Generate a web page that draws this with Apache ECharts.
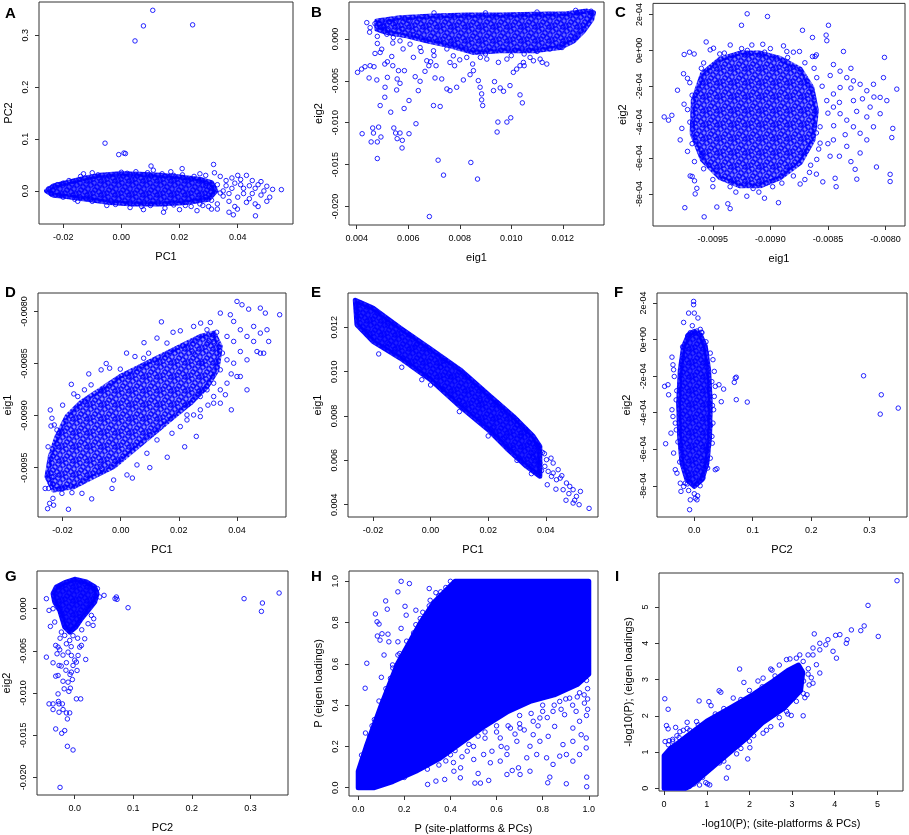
<!DOCTYPE html>
<html><head><meta charset="utf-8">
<script src="https://cdn.jsdelivr.net/npm/echarts@6/dist/echarts.min.js"></script>
<style>html,body{margin:0;padding:0;background:#fff}#c{width:909px;height:835px}</style>
</head><body><div id="c"></div>
<script>
// ---------- tick values and labels ----------
const ticksPC1 = [-0.02, 0, 0.02, 0.04];
const labelsPC1 = ["-0.02", "0.00", "0.02", "0.04"];
const ticksPC2A = [0, 0.1, 0.2, 0.3];
const labelsPC2A = ["0.0", "0.1", "0.2", "0.3"];
const ticksEig1B = [0.004, 0.006, 0.008, 0.010, 0.012];
const labelsEig1B = ["0.004", "0.006", "0.008", "0.010", "0.012"];
const ticksEig2B = [-0.020, -0.015, -0.010, -0.005, 0];
const labelsEig2B = ["-0.020", "-0.015", "-0.010", "-0.005", "0.000"];
const ticksEig1C = [-0.0095, -0.0090, -0.0085, -0.0080];
const labelsEig1C = ["-0.0095", "-0.0090", "-0.0085", "-0.0080"];
const ticksEig2C = [-8e-4, -6e-4, -4e-4, -2e-4, 0, 2e-4];
const labelsEig2C = ["-8e-04", "-6e-04", "-4e-04", "-2e-04", "0e+00", "2e-04"];
const ticksP = [0, 0.2, 0.4, 0.6, 0.8, 1.0];
const labelsP = ["0.0", "0.2", "0.4", "0.6", "0.8", "1.0"];
const ticksLog = [0, 1, 2, 3, 4, 5];
const labelsLog = ["0", "1", "2", "3", "4", "5"];

// ---------- panel A: PC1 vs PC2 ----------
const coreA = [[-0.0257,0.0],[-0.0234,0.0096],[-0.0188,0.0159],[-0.0119,0.0255],[-0.0073,0.0300],[-0.0005,0.0330],[0.0064,0.0320],[0.0133,0.0300],[0.0202,0.0270],[0.0271,0.0223],[0.0310,0.0159],[0.0325,0.0],[0.0300,-0.0159],[0.0225,-0.0223],[0.0133,-0.0250],[0.0041,-0.0250],[-0.0039,-0.0223],[-0.0119,-0.0159],[-0.0188,-0.0108],[-0.0234,-0.0083]];
const ptsA = [[0.0108,0.348],[0.0076,0.318],[0.0047,0.289],[0.0245,0.320],[-0.0056,0.092],[-0.0009,0.070],[0.0009,0.073],[0.0014,0.072],[0.0102,0.048],[0.0317,0.051],[0.0209,0.043],[0.055,0.0025],[0.0461,-0.048],[0.037,-0.041],[0.0385,-0.046],[0.0399,-0.035],[0.0145,-0.041],[0.0076,-0.036],
[0.034,0.028],[0.036,0.02],[0.038,0.005],[0.035,-0.01],[0.037,-0.02],[0.04,0.03],[0.041,0.012],[0.042,-0.005],[0.043,0.03],[0.044,-0.015],[0.045,0.02],[0.046,0.005],[0.046,-0.025],[0.047,0.012],[0.048,-0.008],[0.049,0.0],[0.05,0.009],[0.05,-0.02],[0.051,-0.012],[0.052,0.003],[0.039,-0.03],[0.033,-0.025],[0.032,0.035],[0.041,0.022],[0.044,0.01],[0.048,0.018],[0.043,-0.022],[0.047,-0.03],[0.036,0.01],[0.034,-0.004],
[0.033,0.012],[0.035,0.0],[0.037,-0.005],[0.039,0.015],[0.040,-0.012],[0.042,0.005],[0.045,-0.005],[0.038,0.025],[0.031,-0.018],[0.033,-0.035],[0.029,0.03],[0.030,-0.03],
[-0.013,0.033],[-0.01,0.035],[0.0,0.036],[0.005,0.037],[0.017,0.037],[0.027,0.033],[-0.005,-0.028],[0.007,-0.03],[0.015,-0.033],[0.024,-0.03],[0.028,-0.028],[0.031,-0.035],[-0.015,-0.02],[-0.02,0.015],[0.018,0.03],[0.022,-0.028],[-0.025,0.004],[-0.024,-0.006],[0.011,0.04],[0.02,-0.036],[0.026,-0.038],[0.003,-0.032],
[-0.022,0.012],[-0.018,0.02],[-0.014,0.028],[-0.008,0.031],[0.002,0.034],[0.009,0.035],[0.014,0.033],[0.021,0.031],[0.025,0.028],[-0.02,-0.012],[-0.016,-0.016],[-0.01,-0.02],[-0.002,-0.026],[0.01,-0.028],[0.018,-0.027],[0.027,-0.025],[0.029,0.01],[0.031,0.005],[0.03,-0.008]];

// ---------- panel B: eig1 vs eig2 ----------
const coreB = [[0.004777,0.00213],[0.005683,0.00253],[0.006977,0.00273],[0.008272,0.00285],[0.009566,0.00285],[0.010861,0.00293],[0.012155,0.0030],[0.012932,0.00332],[0.013191,0.00312],[0.013126,0.00233],[0.012803,0.00095],[0.012414,-0.00024],[0.011896,-0.00103],[0.010861,-0.00142],[0.009566,-0.00142],[0.008531,-0.00162],[0.007625,-0.00083],[0.006718,-0.00024],[0.005942,0.00036],[0.005165,0.00075],[0.004777,0.00115]];
const ptsB = [[0.00403,-0.00399],[0.00419,-0.00360],[0.00432,-0.00332],[0.00452,-0.00320],[0.00467,-0.00332],[0.00448,-0.00466],[0.00478,-0.00490],[0.00471,-0.00174],[0.00491,-0.00162],[0.00497,-0.00123],[0.00509,-0.00300],[0.00519,-0.00273],[0.00536,-0.00210],[0.00540,-0.00320],[0.00480,-0.00055],[0.00421,-0.01131],[0.00456,-0.01229],[0.00462,-0.01063],[0.00465,-0.01123],[0.00480,-0.01229],[0.00480,-0.01427],[0.00485,-0.01052],[0.00491,-0.00795],[0.00494,-0.01170],[0.00510,-0.00577],[0.00509,-0.00696],[0.00519,-0.00459],[0.00532,-0.00874],[0.00544,-0.01063],[0.00551,-0.01123],[0.00557,-0.01190],[0.00568,-0.01123],[0.00577,-0.01210],[0.00576,-0.01301],[0.00603,-0.01131],[0.00630,-0.01012],[0.00584,-0.00830],[0.00603,-0.00735],[0.00557,-0.00478],[0.00555,-0.00609],[0.00568,-0.00530],[0.00562,-0.00379],[0.00585,-0.00379],[0.00627,-0.00451],[0.00639,-0.00617],[0.00646,-0.00506],[0.00665,-0.00387],[0.00687,-0.00273],[0.00708,-0.00320],[0.00704,-0.00466],[0.00730,-0.00478],[0.00698,-0.00795],[0.00724,-0.00806],[0.00716,-0.01447],[0.00737,-0.01625],[0.00682,-0.02119],[0.00843,-0.01474],[0.00869,-0.01672],[0.00750,-0.00597],[0.00762,-0.00617],[0.00788,-0.00577],[0.00814,-0.00490],[0.00840,-0.00427],[0.00853,-0.00379],[0.00872,-0.00498],[0.00879,-0.00577],[0.00885,-0.00656],[0.00885,-0.00727],[0.00889,-0.00795],[0.00948,-0.00992],[0.00983,-0.00992],[0.00998,-0.00941],[0.00945,-0.01111],[0.01034,-0.00668],[0.01043,-0.00763],[0.00931,-0.00617],[0.00935,-0.00510],[0.00957,-0.00585],[0.00970,-0.00625],[0.00995,-0.00557],[0.01008,-0.00399],[0.01021,-0.00360],[0.01034,-0.00320],[0.01047,-0.00281],[0.01086,-0.00261],[0.01112,-0.00241],[0.01138,-0.00300],[0.01197,-0.00103],[0.00471,0.00182],[0.00504,0.00154],[0.00529,0.00206],[0.00452,0.00134],[0.00439,0.00194],[0.00517,0.00055],[0.00542,0.00016],[0.00568,-0.00024],[0.00607,-0.00063],[0.00646,-0.00103],[0.00698,-0.00142],[0.00775,-0.00202],[0.00827,-0.00221],[0.00905,-0.00241],[0.00983,-0.00241],[0.01073,-0.00221],[0.00762,-0.00281],[0.00672,-0.00261],
[0.0065,-0.0015],[0.0070,-0.0020],[0.0075,-0.0012],[0.0080,-0.0025],[0.0085,-0.0030],[0.0090,-0.0018],[0.0095,-0.0028],[0.0100,-0.0020],[0.0105,-0.0018],[0.0110,-0.0015],[0.0115,-0.0012],[0.0120,-0.0006],[0.0088,-0.0022],[0.0078,-0.0032],[0.0068,-0.0032],[0.0062,-0.0022],[0.0058,-0.0012],[0.0054,-0.0005],[0.0105,-0.0032],[0.0112,-0.0028],[0.0050,0.0015],[0.0055,0.0019],[0.0060,0.0022],[0.0045,0.0008],[0.0048,0.0003],[0.0052,0.0010],[0.0058,0.0012],[0.0062,0.0005],[0.0070,0.0031],[0.0090,0.0031],[0.0110,0.0032],[0.0125,0.0034],[0.0131,0.0033]];

// ---------- panel C: eig1 vs eig2 ----------
const coreC = [[-0.0096700,-2.80e-4],[-0.0095900,-1.30e-4],[-0.0094400,-5.0e-5],[-0.0092625,-1.5e-5],[-0.0090888,-1.5e-5],[-0.0089150,-4.5e-5],[-0.0087400,-1.05e-4],[-0.0086400,-2.07e-4],[-0.0086000,-3.35e-4],[-0.0086300,-5.0e-4],[-0.0087400,-6.25e-4],[-0.0089150,-7.1e-4],[-0.0090888,-7.55e-4],[-0.0092625,-7.55e-4],[-0.0094363,-7.1e-4],[-0.0095900,-6.1e-4],[-0.0096800,-4.62e-4]];
const ptsC = [[-0.0092017,2.04e-4],[-0.0090250,1.89e-4],[-0.0092509,1.40e-4],[-0.0087210,1.12e-4],[-0.0084951,1.40e-4],[-0.0086341,7.2e-5],[-0.0085154,8.5e-5],[-0.0085096,5.4e-5],[-0.009558,4.7e-5],[-0.0083648,-6e-6],[-0.0080085,-3.9e-5],[-0.0079014,-2.16e-4],[-0.0079361,-4.35e-4],[-0.007945,-4.86e-4],[-0.0079592,-6.91e-4],[-0.0079592,-7.31e-4],[-0.0080780,-6.5e-4],[-0.0082633,-6.63e-4],[-0.0082488,-7.18e-4],[-0.0084372,-7.13e-4],[-0.0084285,-7.6e-4],[-0.0085443,-7.33e-4],[-0.0087413,-7.45e-4],[-0.0089295,-8.49e-4],[-0.0090511,-8.24e-4],[-0.0092046,-8.13e-4],[-0.0093697,-8.55e-4],[-0.0093494,-8.82e-4],[-0.0094653,-8.73e-4],[-0.0095753,-9.28e-4],[-0.0097433,-8.77e-4],[-0.0096593,-7.27e-4],[-0.0096390,-7.69e-4],[-0.0096535,-8.0e-4],[-0.0099228,-3.71e-4],[-0.0098852,-3.89e-4],[-0.0098562,-3.62e-4],[-0.0098070,-2.22e-4],[-0.0097838,-4.99e-4],[-0.0097693,-4.35e-4],[-0.0097201,-5.63e-4],[-0.0096969,-7.0e-4],[-0.0096795,-7.03e-4],[-0.009749,-2.3e-5],[-0.0097027,-1.0e-5],[-0.0096622,-2.0e-5],[-0.0097548,-1.3e-4],[-0.0097201,-1.56e-4],[-0.009523,3e-6],[-0.009494,1.2e-5],[-0.009349,3.0e-5],[-0.009161,3.0e-5],[-0.009066,3.4e-5],[-0.008886,2.5e-5],[-0.008857,-6e-6],[-0.008747,-6e-6],[-0.008634,-3.4e-5],[-0.008611,-3.4e-5],
[-0.008452,-7.9e-5],[-0.008394,-1.16e-4],[-0.008336,-1.52e-4],[-0.008278,-1.70e-4],[-0.008220,-1.89e-4],[-0.008162,-2.25e-4],[-0.008104,-1.89e-4],[-0.008046,-2.62e-4],[-0.007988,-2.80e-4],[-0.008510,-2.80e-4],[-0.008452,-3.16e-4],[-0.008394,-3.53e-4],[-0.008336,-3.89e-4],[-0.008278,-4.26e-4],[-0.008220,-4.62e-4],[-0.008162,-4.99e-4],[-0.008104,-4.26e-4],[-0.008046,-3.53e-4],[-0.008568,-4.26e-4],[-0.008452,-4.99e-4],[-0.008336,-5.35e-4],[-0.008220,-5.72e-4],[-0.008481,-5.90e-4],[-0.008597,-6.08e-4],[-0.008394,-2.07e-4],[-0.008278,-2.80e-4],[-0.008162,-3.71e-4],[-0.008017,-1.52e-4],[-0.008133,-3.16e-4],[-0.008452,-2.43e-4],[-0.008597,-1.52e-4],[-0.008568,-5.17e-4],
[-0.00855,-2.0e-4],[-0.00850,-3.5e-4],[-0.00860,-4.6e-4],[-0.00845,-4.2e-4],[-0.00865,-6.4e-4],[-0.00858,-5.5e-4],[-0.0084,-2.9e-4],[-0.00848,-1.4e-4],[-0.00835,-4.7e-4],[-0.00825,-3.4e-4],[-0.00862,-1.0e-4],[-0.00870,-6.9e-5],[-0.00968,-2.5e-4],[-0.00972,-3.3e-4],[-0.00966,-6.2e-4],[-0.00958,-6.6e-4],[-0.00950,-7.6e-4],[-0.00935,-7.6e-4],[-0.00915,-7.7e-4],[-0.00898,-7.6e-4],[-0.00880,-7.0e-4],[-0.00866,-6.8e-4],[-0.00958,-7.0e-5],[-0.00944,-2.0e-5],[-0.00925,1.0e-5],[-0.00905,-1.0e-5],[-0.00885,-4.0e-5],
[-0.00975,-3.0e-4],[-0.0097,-4.0e-4],[-0.00968,-5.2e-4],[-0.0096,-5.8e-4],[-0.0095,-7.2e-4],[-0.0093,-7.9e-4],[-0.0091,-7.9e-4],[-0.0089,-7.4e-4],[-0.0087,-7.2e-4],[-0.0086,-6.9e-4],[-0.0088,-1.0e-5],[-0.0090,1.0e-5],[-0.0092,0.0],[-0.0094,-1.5e-5],[-0.0096,-1.0e-4],[-0.0097,-1.8e-4],[-0.0085,-5.2e-4],[-0.0084,-5.9e-4],[-0.0083,-6.2e-4],[-0.0082,-2.7e-4],[-0.0081,-2.6e-4],[-0.0083,-2.1e-4],[-0.0086,-2.5e-5],[-0.0083,-1.0e-4]];

// ---------- panel D: PC1 vs eig1 ----------
const coreD = [[-0.02539,-0.009586],[-0.02424,-0.009394],[-0.02195,-0.009202],[-0.01851,-0.009010],[-0.01392,-0.008881],[-0.007037,-0.008753],[-0.000153,-0.008625],[0.00673,-0.008529],[0.013613,-0.008433],[0.020497,-0.008337],[0.027379,-0.00824],[0.031968,-0.008208],[0.034263,-0.008337],[0.033115,-0.008561],[0.029674,-0.008721],[0.023938,-0.008881],[0.018202,-0.00901],[0.011319,-0.00917],[0.004435,-0.00933],[-0.002447,-0.00949],[-0.00933,-0.009586],[-0.01621,-0.009683],[-0.0231,-0.009715]];
const ptsD = [[0.0400,-0.007904],[0.04172,-0.007936],[0.04401,-0.007978],[0.04803,-0.007968],[0.04975,-0.008016],[0.05468,-0.008032],[0.03426,-0.008016],[0.0377,-0.008032],[0.03885,-0.008096],[0.02749,-0.008112],[0.03082,-0.008106],[0.0205,-0.008186],[0.01247,-0.008256],[0.0159,-0.008304],
[0.04115,-0.008176],[0.04344,-0.00824],[0.04573,-0.008144],[0.04803,-0.008208],[0.05032,-0.008176],[0.0509,-0.008288],[0.04688,-0.008385],[0.04344,-0.008465],[0.04918,-0.008401],[0.03999,-0.008625],[0.04115,-0.008625],[0.03805,-0.008945],[0.03426,-0.008881],[0.03197,-0.008817],[0.02738,-0.008945],[0.02508,-0.008994],[0.02279,-0.008994],[0.0205,-0.009106],
[0.03656,-0.00824],[0.03885,-0.008288],[0.04115,-0.008385],[0.03656,-0.008465],[0.03426,-0.008561],[0.03197,-0.008689],[0.02967,-0.008753],[0.02738,-0.008817],[0.03885,-0.008497],[0.04573,-0.008288],[0.04803,-0.008401],[0.03197,-0.008288],[0.02967,-0.008176],[0.04344,-0.008753],[0.03656,-0.008689],[0.02508,-0.008144],
[-0.02516,-0.009894],[-0.02447,-0.009843],[-0.02333,-0.009795],[-0.02310,-0.00986],[-0.02482,-0.009699],[-0.02424,-0.00965],[-0.02023,-0.009747],[-0.01679,-0.00974],[-0.01335,-0.009747],[-0.02310,-0.009586],
[-0.02424,-0.008946],[-0.02367,-0.009026],[-0.02287,-0.009090],[-0.02195,-0.009138],
[-0.01615,-0.008792],[-0.01478,-0.008817],[-0.01249,-0.008753],[-0.0102,-0.008705],[-0.00675,-0.008561],[-0.003824,-0.008545],[-0.000153,-0.008554],[0.004894,-0.008433],[0.007877,-0.008449],[0.009598,-0.008401],
[-0.007037,-0.00949],[-0.002447,-0.009619],[0.00214,-0.00957],[0.00558,-0.009474],[0.009,-0.009362],[0.01247,-0.009234],[0.01763,-0.00917],[0.02279,-0.009042],[0.02738,-0.00901],[0.03197,-0.008881],[0.03426,-0.008753],
[0.025,-0.0084],[0.028,-0.0085],[0.030,-0.0083],[0.033,-0.0082],[0.035,-0.0084],[0.038,-0.0086],[0.036,-0.0088],[0.030,-0.0089],[0.026,-0.0092],[0.022,-0.0093],[0.016,-0.0094],[0.010,-0.0095],[0.004,-0.0096],[-0.003,-0.0097],[-0.010,-0.0098],[-0.018,-0.0099],[-0.026,-0.0097],[-0.025,-0.0093],[-0.024,-0.0091],[-0.020,-0.0089],[-0.017,-0.0087],[-0.011,-0.0086],[-0.005,-0.0085],[0.002,-0.0084],[0.008,-0.0083],[0.014,-0.0081],[0.018,-0.0082]];

// ---------- panel E: PC1 vs eig1 ----------
const coreE = [[-0.02612,0.013218],[-0.02,0.012872],[-0.01054,0.01197],[0.0,0.011023],[0.01023,0.01009],[0.02004,0.008962],[0.02869,0.007985],[0.03561,0.007083],[0.03792,0.006632],[0.03792,0.005278],[0.03331,0.005729],[0.02638,0.006556],[0.02004,0.007383],[0.01023,0.008436],[0.0,0.009639],[-0.01054,0.010617],[-0.02,0.011368],[-0.02554,0.01212]];
const ptsE = [[0.0550,0.003834],[0.05154,0.0040],[0.04946,0.004075],[0.046,0.004677],[0.04715,0.004978],[0.0483,0.004827],[0.04946,0.004677],[0.05062,0.004376],[0.04254,0.005428],[0.0408,0.005503],[0.04369,0.005127],[0.03965,0.005729],[0.03792,0.005879],[0.03561,0.00618],[0.03446,0.005804],[0.03561,0.006361],[0.04254,0.005879],[0.04427,0.005579],[0.04554,0.005308],[0.04023,0.00603],[0.04196,0.005277],[0.03849,0.005534],[0.03446,0.006782],[0.03884,0.006361],[0.03677,0.006707],[0.02869,0.00657],[0.02569,0.00702],[0.02165,0.00747],[-0.00304,0.00964],[0.0100,0.0087],[0.0035,0.0102],[0.0172,0.0087],[0.0315,0.0071],[-0.0245,0.0131],[-0.0255,0.0125],[-0.022,0.0118],[-0.018,0.0108],[0.045,0.0052],[0.048,0.0045],[0.050,0.0042],[0.052,0.0046],[0.0405,0.0049],[0.0435,0.0047],[0.0470,0.0042],[0.0395,0.0063],[0.0418,0.0061],[0.0330,0.0074],[0.0300,0.0078],[0.0230,0.0086],[-0.0150,0.0113],[0.0060,0.0098],
[-0.015,0.0121],[-0.005,0.0112],[0.005,0.0105],[0.015,0.0094],[0.025,0.0083],[0.030,0.0076],[-0.010,0.0102],[0.0,0.0094],[0.010,0.0082],[0.020,0.0071],[0.030,0.0060],[0.035,0.0054]];

// ---------- panel F: PC2 vs eig2 ----------
const coreF = [[0.0,4.5e-5],[0.01027,2.7e-5],[0.01882,-3.7e-5],[0.02452,-1.65e-4],[0.02737,-3.48e-4],[0.02623,-5.3e-4],[0.02167,-6.76e-4],[0.01312,-7.67e-4],[0.0,-8.04e-4],[-0.01255,-7.67e-4],[-0.0211,-6.76e-4],[-0.02509,-5.3e-4],[-0.0268,-3.48e-4],[-0.02395,-1.65e-4],[-0.01825,-3.7e-5],[-0.0097,2.7e-5]];
const ptsF = [[0.2897,-1.98e-4],[0.32,-3.02e-4],[0.3182,-4.08e-4],[0.349,-3.75e-4],[0.07015,-2.11e-4],[0.07186,-2.06e-4],[0.06844,-2.34e-4],[0.07186,-3.29e-4],[0.09068,-3.42e-4],[0.0502,-2.71e-4],[0.0422,-2.47e-4],[0.0462,-3.40e-4],
[-0.00114,2.09e-4],[-0.00114,1.91e-4],[-0.00969,1.45e-4],[0.0,1.45e-4],[0.00627,1.18e-4],[-0.01825,9.4e-5],[-0.0034,7.6e-5],[0.01027,5.6e-5],[0.00456,4.7e-5],[-0.01141,2e-5],[-0.00684,3.8e-5],[0.01312,3.8e-5],
[-0.04904,-5.7e-4],[-0.05076,-2.56e-4],[-0.04505,-2.47e-4],[-0.04391,-3.02e-4],[-0.03821,-9.6e-5],[-0.0365,-1.38e-4],[-0.03536,-1.65e-4],[-0.03422,-2.02e-4],[-0.03992,-5.12e-4],[-0.03821,-3.84e-4],[-0.0365,-4.21e-4],[-0.03251,-4.57e-4],[-0.0308,-4.94e-4],[-0.03536,-6.21e-4],[-0.03251,-7.12e-4],[-0.02281,-8.31e-4],[-0.02966,-7.31e-4],[-0.02395,-7.86e-4],
[0.02737,-7.4e-5],[0.03194,-1.10e-4],[0.03422,-1.74e-4],[0.03593,-2.56e-4],[0.03422,-3.11e-4],[0.03308,-3.84e-4],[0.03194,-4.57e-4],[0.03023,-5.30e-4],[0.0308,-5.67e-4],[0.02737,-6.49e-4],[0.02281,-7.03e-4],[0.03593,-7.12e-4],[0.03878,-7.07e-4],[0.02053,-6.94e-4],[0.01483,-7.58e-4],
[-0.00798,-9.31e-4],[0.00171,-8.68e-4],[0.00456,-8.77e-4],[0.0,-8.44e-4],[0.0057,-8.55e-4],[-0.00684,-8.77e-4],[-0.0097,-8.26e-4],[-0.01825,-8.04e-4],[-0.0154,-7.86e-4],
[-0.030,-2.8e-4],[-0.031,-3.3e-4],[0.030,-2.3e-4],[0.031,-3.6e-4],[0.028,-4.7e-4],[-0.028,-5.6e-4],[-0.025,-6.7e-4],[0.022,-6.0e-4],[-0.020,-4.0e-5],[0.020,-1.2e-5],[0.012,4.0e-5],[-0.012,-7.9e-4],[0.010,-8.0e-4]];

// ---------- panel G: PC2 vs eig2 ----------
const coreG = [[0.0,0.003485],[0.01993,0.003168],[0.03416,0.002574],[0.03814,0.001782],[0.03416,0.000792],[0.02277,-0.000198],[0.01139,-0.001188],[0.00171,-0.002178],[-0.00854,-0.002772],[-0.01708,-0.002178],[-0.02562,-0.000198],[-0.03416,0.000792],[-0.037,0.001782],[-0.03131,0.002574],[-0.01708,0.003089]];
const ptsG = [[0.2892,0.001188],[0.349,0.00186],[0.3205,0.000673],[0.3188,-0.000317],[0.0911,0.000119],[0.07116,0.001386],[0.0723,0.001109],[0.06889,0.001188],[0.0501,0.001584],[0.0427,0.00139],[0.0387,0.00238],
[-0.04839,0.001188],[-0.04384,-0.000198],[-0.04156,-0.002099],[-0.03416,-0.001584],[-0.037,0.0],
[-0.04839,-0.005742],[-0.037,-0.006415],[-0.03245,-0.004356],[-0.02846,-0.004554],[-0.03017,-0.005346],[-0.02562,-0.004871],
[-0.03245,-0.008],[-0.02846,-0.00792],[-0.02676,-0.006732],[-0.0279,-0.011],[-0.02676,-0.011286],[-0.02846,-0.0101],
[-0.04384,-0.011286],[-0.037,-0.011286],[-0.037,-0.01196],[-0.02106,-0.011286],[-0.01993,-0.01196],[-0.02676,-0.012276],[-0.01423,-0.012355],[-0.00854,-0.012355],[-0.01253,-0.013068],[-0.03245,-0.014256],[-0.0222,-0.014771],[-0.01708,-0.014454],[-0.01253,-0.016315],[-0.00285,-0.016751],[-0.02505,-0.021186],[0.00285,-0.010692],[0.01025,-0.010692],[-0.0074,-0.009425],
[-0.01139,-0.008712],[-0.00569,-0.007524],[-0.00285,-0.006732],[0.00399,-0.007326],[0.00569,-0.005544],[0.00854,-0.004554],[0.01139,-0.004356],[0.01879,-0.006019],[0.01708,-0.003564],[0.00285,-0.006336],[-0.00569,-0.005544],[-0.01139,-0.005148],[-0.00854,-0.003762],[-0.01708,-0.003168],[-0.02277,-0.002772],[-0.01423,-0.004158],[0.02277,-0.001782],[0.03131,-0.00198],[0.03245,-0.001188],[0.02846,-0.000792],
[-0.0142,-0.0064],[-0.008,-0.0078],[-0.02,-0.0086],[-0.018,-0.0095],[-0.01,-0.0098],[-0.004,-0.0084],[0.0,-0.0061],[-0.02,-0.0055],[-0.025,-0.0035],[-0.006,-0.0045],[0.005,-0.0035],[-0.015,-0.0073],[-0.023,-0.0068],[-0.003,-0.0032],[0.012,-0.0025]];

// ---------- panel H: P (site-platforms & PCs) vs P (eigen loadings) ----------
const coreH = [[0.0,0.0],[0.0,0.08],[0.035,0.2],[0.1,0.4],[0.17,0.6],[0.27,0.8],[0.33,0.9],[0.42,1.0],[1.0,1.0],[1.0,0.55],[0.95,0.5],[0.85,0.45],[0.75,0.42],[0.65,0.37],[0.55,0.3],[0.45,0.22],[0.35,0.14],[0.25,0.08],[0.15,0.03],[0.07,0.0]];
const ptsH = [[0.1862,1.0],[0.222,0.989],[0.172,0.949],[0.119,0.905],[0.126,0.865],[0.0745,0.842],[0.0817,0.804],[0.0903,0.793],[0.1032,0.746],[0.129,0.744],[0.083,0.735],[0.0946,0.715],[0.0372,0.603],[0.0301,0.482],[0.1003,0.535],[0.112,0.643],[0.149,0.595],[0.172,0.707],[0.172,0.643],[0.186,0.772],[0.208,0.836],[0.203,0.879],[0.269,0.82],[0.308,0.965],[0.308,0.881],[0.312,0.908],[0.337,0.945],[0.358,0.949],[0.133,0.707],[0.0315,0.265],[0.0143,0.158],[0.229,0.691],[0.287,0.756],[0.24,0.75],[0.25,0.86],[0.3,0.84],
[0.9026,0.0193],[0.991,0.0048],[0.991,0.0514],[0.822,0.0241],[0.831,0.0514],[0.745,0.08],[0.702,0.0643],[0.668,0.0836],[0.645,0.0643],[0.566,0.0354],[0.53,0.0225],[0.506,0.0225],[0.52,0.0691],[0.443,0.0482],[0.415,0.08],[0.375,0.0402],[0.337,0.0322],[0.301,0.0161],[0.413,0.122],[0.501,0.137],[0.573,0.121],[0.616,0.129],[0.645,0.161],[0.695,0.0965],[0.731,0.145],[0.774,0.161],[0.817,0.145],[0.845,0.113],[0.874,0.153],[0.903,0.161],[0.931,0.129],[0.96,0.161],[0.989,0.241],[0.989,0.193],[0.888,0.209],[0.931,0.225],[0.967,0.257],[0.931,0.289],[0.852,0.297],[0.824,0.249],[0.788,0.225],[0.759,0.257],[0.745,0.201],[0.688,0.225],[0.645,0.193],[0.616,0.241],[0.58,0.177],[0.544,0.161],[0.473,0.177],[0.444,0.0965],[0.895,0.354],[0.845,0.37],[0.945,0.37],[0.981,0.41],[0.96,0.322],[0.759,0.322],[0.702,0.289],[0.66,0.289],[0.788,0.338],[0.917,0.434],[0.874,0.418],[0.995,0.48],[0.995,0.43],[0.995,0.38],[0.99,0.35],[0.98,0.45],[0.96,0.46],[0.52,0.25],[0.6,0.3],[0.7,0.35],[0.8,0.4],[0.4,0.16],[0.3,0.09],[0.2,0.05],
[0.30,0.12],[0.35,0.11],[0.40,0.19],[0.45,0.15],[0.50,0.20],[0.55,0.24],[0.60,0.27],[0.65,0.30],[0.70,0.31],[0.75,0.36],[0.80,0.37],[0.85,0.40],[0.90,0.43],[0.95,0.44],[0.62,0.20],[0.68,0.26],[0.72,0.28],[0.78,0.30],[0.82,0.34],[0.88,0.38],[0.93,0.40],[0.99,0.52],[0.55,0.27],[0.48,0.21],[0.42,0.18],[0.38,0.13],
[0.05,0.25],[0.07,0.33],[0.09,0.42],[0.12,0.48],[0.15,0.58],[0.18,0.65],[0.21,0.71],[0.25,0.79],[0.28,0.85],[0.35,0.93],[0.38,0.97],[0.40,1.0],[0.06,0.30],[0.14,0.53]];

// ---------- panel I: -log10(P) site-platforms vs -log10(P) eigen ----------
const coreI = [[0.0,0.0],[0.0,0.9],[0.15,1.1],[0.3,1.22],[0.55,1.45],[1.0,1.85],[1.6,2.25],[2.1,2.6],[2.55,2.95],[2.9,3.25],[3.15,3.4],[3.25,3.2],[3.2,2.7],[2.8,2.2],[2.3,1.8],[1.9,1.35],[1.5,0.95],[1.15,0.6],[0.8,0.25],[0.6,0.05],[0.5,0.0]];
const ptsI = [[5.46,5.727],[4.78,5.046],[5.02,4.19],[4.69,4.48],[4.61,4.35],[4.39,4.37],[4.29,4.1],[4.27,4.0],[4.12,4.24],[4.02,4.22],[3.84,4.1],[4.04,3.59],[3.96,3.78],[3.79,3.96],[3.65,3.82],[3.52,4.26],[3.65,4.0],[3.49,3.68],[3.375,3.68],[3.26,3.5],[3.57,3.41],[3.65,3.18],[3.375,3.15],[3.49,2.9],[3.27,2.96],[3.18,2.76],[3.35,2.58],[3.26,2.62],[3.02,2.72],[2.98,2.01],[3.26,2.0],[2.87,2.12],[2.75,1.75],[2.32,1.52],[2.01,1.12],[1.96,0.81],[1.62,1.24],[1.5,0.58],[1.46,0.28],[1.07,0.092],[1.02,0.12],[0.977,0.157],[0.8,0.23],[0.83,0.09],[0.56,0.09],[0.4,0.04],
[0.016,2.47],[0.094,2.18],[0.055,1.73],[0.094,1.64],[0.27,1.68],[0.023,1.29],[0.117,1.31],[0.3,1.45],[0.37,1.56],[0.54,1.82],[0.54,1.65],[0.76,1.84],[0.82,2.41],[1.05,2.39],[1.1,2.28],[1.29,2.69],[1.33,2.65],[1.77,3.29],[1.87,2.92],[1.62,2.49],[2.2,2.96],[2.32,3.04],[2.5,3.29],[2.53,3.26],[2.7,3.4],[2.87,3.55],[2.95,3.57],[3.1,3.59],[3.18,3.68],[3.49,3.87],[3.38,3.3],[3.45,3.05],[3.1,2.4],[2.7,1.95],[2.4,1.6],[2.1,1.45],[1.8,1.1],[1.4,0.75],[0.2,1.3],[0.1,1.2],[0.45,1.6],
[0.2,1.35],[0.35,1.4],[0.6,1.6],[0.8,1.75],[1.2,2.05],[1.4,2.2],[1.8,2.45],[2.0,2.7],[2.3,2.8],[2.6,3.1],[1.3,0.7],[1.7,0.95],[2.0,1.3],[2.5,1.7],[2.9,2.05],[3.3,2.5],[3.4,2.85],[0.9,0.3],[0.7,0.12]];

// ---------- layout (pixels) ----------
const FONT = '"Liberation Sans", Arial, Helvetica, sans-serif';
const BLUE = '#0000ff';
const panels = [
  {letter:'A', grid:{left:39,top:2,width:254,height:222}, lt:[5,6], x:[-0.0283,0.059], y:[-0.0637,0.364], xt:ticksPC1, xl:labelsPC1, yt:ticksPC2A, yl:labelsPC2A, xn:'PC1', yn:'PC2', core:coreA, pts:ptsA, bg:0.72},
  {letter:'B', grid:{left:349,top:2,width:255,height:223}, lt:[311,5], x:[0.0037,0.0136], y:[-0.0222,0.0044], xt:ticksEig1B, xl:labelsEig1B, yt:ticksEig2B, yl:labelsEig2B, xn:'eig1', yn:'eig2', core:coreB, pts:ptsB, bg:0.6},
  {letter:'C', grid:{left:653,top:2,width:252,height:224}, lt:[615,5], x:[-0.01002,-0.00783], y:[-9.79e-4,2.62e-4], xt:ticksEig1C, xl:labelsEig1C, yt:ticksEig2C, yl:labelsEig2C, xn:'eig1', yn:'eig2', core:coreC, pts:ptsC, bg:0.5},
  {letter:'D', grid:{left:38,top:293,width:248,height:224}, lt:[5,285], x:[-0.02847,0.05686], y:[-0.009974,-0.007823], xt:ticksPC1, xl:labelsPC1, yt:ticksEig1C, yl:labelsEig1C, xn:'PC1', yn:'eig1', core:coreD, pts:ptsD, bg:0.45},
  {letter:'E', grid:{left:348,top:293,width:250,height:224}, lt:[311,285], x:[-0.02865,0.0581], y:[0.003445,0.01355], xt:ticksPC1, xl:labelsPC1, yt:ticksEig1B, yl:labelsEig1B, xn:'PC1', yn:'eig1', core:coreE, pts:ptsE, bg:0.88},
  {letter:'F', grid:{left:657,top:293,width:250,height:224}, lt:[614,285], x:[-0.0638,0.364], y:[-9.71e-4,2.55e-4], xt:ticksPC2A, xl:labelsPC2A, yt:ticksEig2C, yl:labelsEig2C, xn:'PC2', yn:'eig2', core:coreF, pts:ptsF, bg:0.8},
  {letter:'G', grid:{left:37,top:571,width:251,height:224}, lt:[5,569], x:[-0.0644,0.3642], y:[-0.02209,0.00447], xt:ticksPC2A, xl:labelsPC2A, yt:ticksEig2B, yl:labelsEig2B, xn:'PC2', yn:'eig2', core:coreG, pts:ptsG, bg:0.9},
  {letter:'H', grid:{left:349,top:571,width:249,height:225}, lt:[311,569], x:[-0.04,1.04], y:[-0.04,1.05], xt:ticksP, xl:labelsP, yt:ticksP, yl:labelsP, xn:'P (site-platforms & PCs)', yn:'P (eigen loadings)', core:coreH, pts:ptsH, bg:1},
  {letter:'I', grid:{left:659,top:573,width:244,height:218}, lt:[615,569], x:[-0.12,5.6], y:[-0.075,5.94], xt:ticksLog, xl:labelsLog, yt:ticksLog, yl:labelsLog, xn:'-log10(P); (site-platforms & PCs)', yn:'-log10(P); (eigen loadings)', core:coreI, pts:ptsI, bg:1}
];

// texture tile imitating many overlapping open circles (style only)
const TILE_CIRCLES = [[2,2],[7,3],[11,8],[4,7],[9,11],[1,10],[6,12],[10,1],[13,5],[3,13]];
function makeTile(bg) {
  const S = 14, c = document.createElement('canvas');
  c.width = S; c.height = S;
  const g = c.getContext('2d');
  g.fillStyle = 'rgba(0,0,255,' + bg + ')';
  g.fillRect(0, 0, S, S);
  g.strokeStyle = 'rgba(0,0,255,0.95)';
  g.lineWidth = 1.1;
  TILE_CIRCLES.forEach(([cx, cy]) => {
    for (let dx = -S; dx <= S; dx += S) for (let dy = -S; dy <= S; dy += S) {
      g.beginPath(); g.arc(cx + dx, cy + dy, 2.2, 0, Math.PI * 2); g.stroke();
    }
  });
  return c;
}

function lookup(ticks, labels) {
  return function (v) {
    let best = 0, bd = Infinity;
    ticks.forEach((t, i) => { const d = Math.abs(t - v); if (d < bd) { bd = d; best = i; } });
    return labels[best];
  };
}

const grids = [], xAxes = [], yAxes = [], series = [], titles = [];
panels.forEach((p, i) => {
  grids.push(Object.assign({show:true, borderColor:'#333', borderWidth:1, backgroundColor:'#fff', containLabel:false}, p.grid));
  const common = {
    type:'value', gridIndex:i, nameLocation:'middle',
    nameTextStyle:{fontFamily:FONT, fontSize:11, color:'#000'},
    axisLine:{show:false, onZero:false}, splitLine:{show:false}
  };
  xAxes.push(Object.assign({}, common, {
    min:p.x[0], max:p.x[1], name:p.xn, nameGap:27, position:'bottom',
    axisTick:{show:true, inside:false, length:4, customValues:p.xt, lineStyle:{color:'#333'}},
    axisLabel:{customValues:p.xt, formatter:lookup(p.xt, p.xl), margin:9, fontFamily:FONT, fontSize:9, color:'#000'}
  }));
  yAxes.push(Object.assign({}, common, {
    min:p.y[0], max:p.y[1], name:p.yn, nameGap:25, position:'left',
    axisTick:{show:true, inside:false, length:4, customValues:p.yt, lineStyle:{color:'#333'}},
    axisLabel:{customValues:p.yt, formatter:lookup(p.yt, p.yl), rotate:90, margin:9, fontFamily:FONT, fontSize:9, color:'#000'}
  }));
  const core = p.core;
  const fill = p.bg >= 1 ? BLUE : {image: makeTile(p.bg), repeat: 'repeat'};
  series.push({
    type:'custom', xAxisIndex:i, yAxisIndex:i, data:[0], silent:true, z:2,
    renderItem: function (params, api) {
      const pts = core.map(c => api.coord(c));
      return {type:'polygon', shape:{points:pts}, style:{fill:fill, stroke:fill, lineWidth:5, lineJoin:'round'}};
    }
  });
  series.push({
    type:'scatter', xAxisIndex:i, yAxisIndex:i, data:p.pts, silent:true, z:3,
    symbol:'circle', symbolSize:4.5,
    itemStyle:{color:'rgba(0,0,0,0)', borderColor:BLUE, borderWidth:1, opacity:0.85}
  });
  titles.push({text:p.letter, left:p.lt[0], top:p.lt[1], padding:0, textStyle:{fontFamily:FONT, fontSize:15, fontWeight:'bold', color:'#000'}});
});

const chart = echarts.init(document.getElementById('c'), null, {renderer:'canvas'});
chart.setOption({
  animation:false, backgroundColor:'#fff',
  title:titles, grid:grids, xAxis:xAxes, yAxis:yAxes, series:series
});
</script></body></html>
